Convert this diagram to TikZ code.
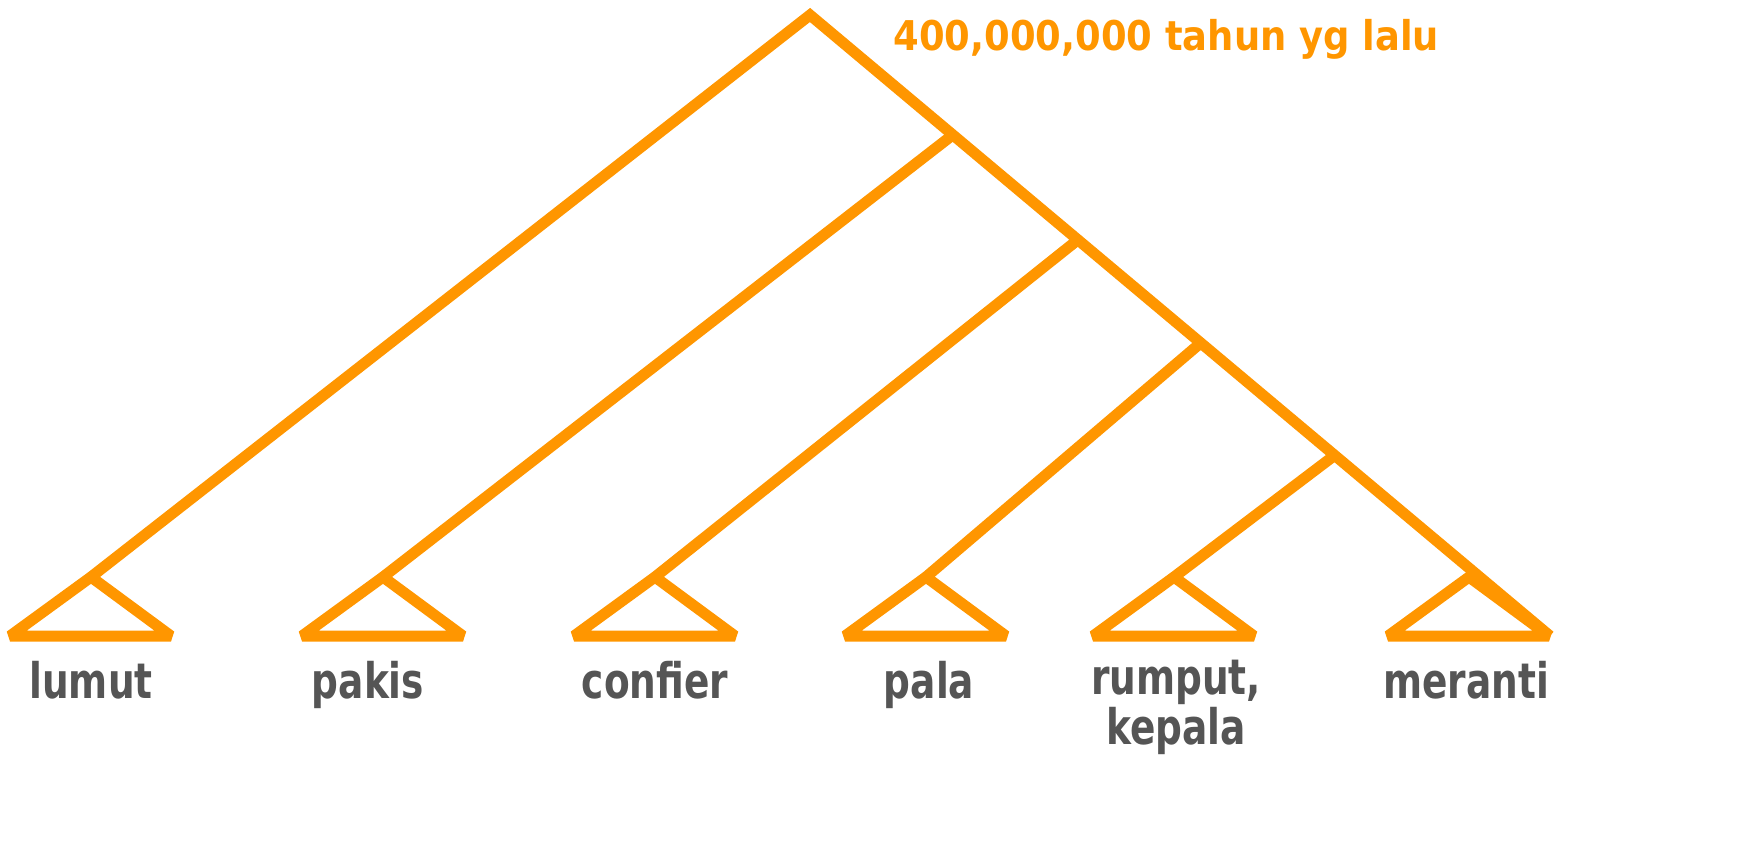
\documentclass[tikz,border=0pt]{standalone}
\usepackage{fontspec}
\setmainfont{DejaVu Sans Condensed}
\newfontfamily\taxonfont[FakeStretch=0.85]{DejaVu Sans Condensed}
\usetikzlibrary{calc}
\definecolor{treeorange}{RGB}{255,150,0}
\definecolor{labelgray}{RGB}{85,85,85}
\tikzset{
  branch/.style={draw=treeorange, line width=5.5pt, line join=miter},
  tri/.style={draw=treeorange, line width=5.5pt, line join=bevel},
  taxon/.style={anchor=base, text=labelgray, font=\taxonfont\bfseries\fontsize{24.5}{23.5}\selectfont, align=center, inner sep=0pt},
  agelabel/.style={anchor=base west, text=treeorange, font=\bfseries\fontsize{20.5}{24}\selectfont, inner sep=0pt}
}
\begin{document}
\begin{tikzpicture}[x=0.5pt,y=-0.5pt]
\useasboundingbox (0,0) rectangle (1760,852);
% root and main spine
\coordinate (root) at (810,15);
\coordinate (mr) at (1550,636);
\coordinate (j1) at ($(root)!0.193!(mr)$);
\coordinate (j2) at ($(root)!0.362!(mr)$);
\coordinate (j3) at ($(root)!0.528!(mr)$);
\coordinate (j4) at ($(root)!0.709!(mr)$);
% triangle corners
\foreach \n/\x in {lumut/10, pakis/302, confier/574, pala/845, rumput/1093, meranti/1388}{
  \coordinate (\n L) at (\x,636);
  \coordinate (\n A) at (\x+81,577);
  \coordinate (\n R) at (\x+161,636);
}
% branches
\draw[branch] (lumutA) -- (root) -- (mr);
\draw[branch] (j1) -- (pakisA);
\draw[branch] (j2) -- (confierA);
\draw[branch] (j3) -- (palaA);
\draw[branch] (j4) -- (rumputA);
% triangles
\foreach \n in {lumut, pakis, confier, pala, rumput, meranti}{
  \draw[tri] (\n L) -- (\n A) -- (\n R) -- cycle;
}
% labels
\node[agelabel] (age) at (893,50) {400,000,000 tahun yg lalu};
\node[taxon] (tlumut) at (91,698) {lumut};
\node[taxon] (tpakis) at (368,698) {pakis};
\node[taxon] (tconfier) at (655,698) {confier};
\node[taxon] (tpala) at (929,698) {pala};
\node[taxon, anchor=north] (trumput) at (1176,660) {rumput,\\kepala};
\node[taxon] (tmeranti) at (1466,698) {meranti};
\end{tikzpicture}
\end{document}
